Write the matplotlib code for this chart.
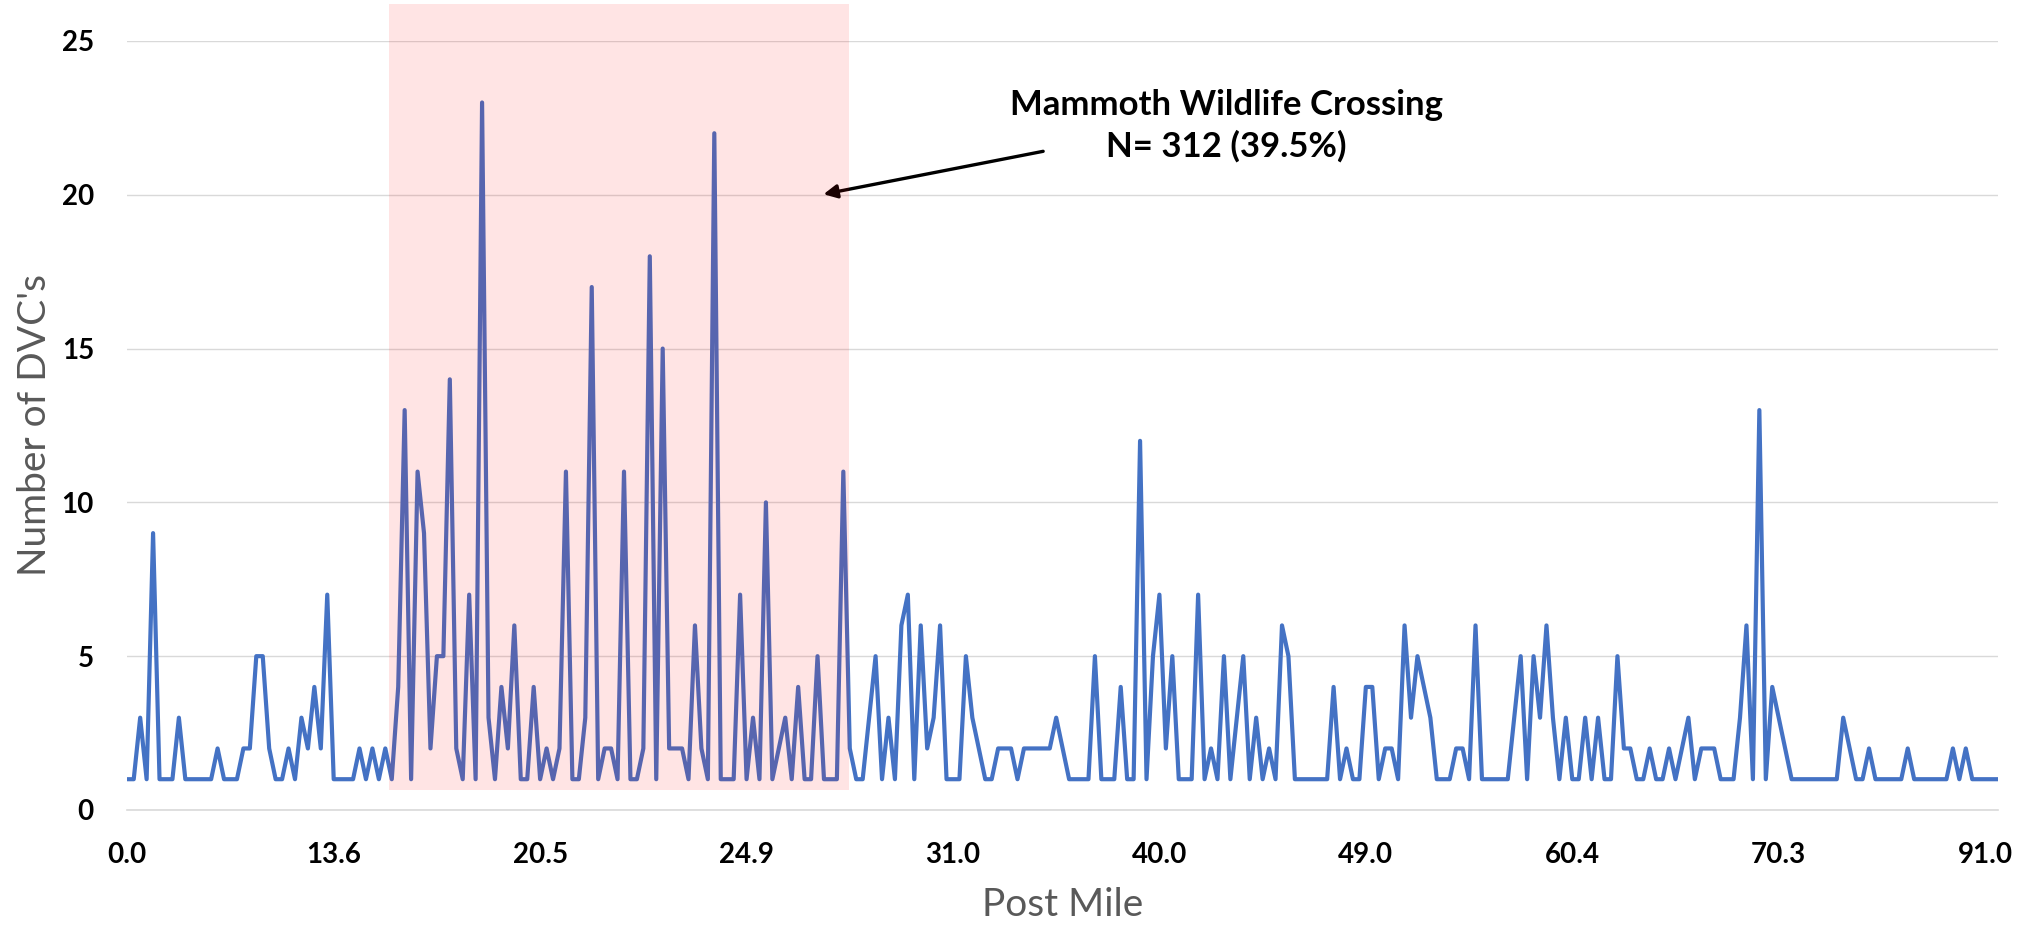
import matplotlib
matplotlib.use("Agg")
import matplotlib.pyplot as plt
from matplotlib.patches import Rectangle


plt.rcParams["font.family"] = ["Lato", "DejaVu Sans"]

# DVC counts per post-mile segment, read left to right
dvc_counts = [
    1, 1, 3, 1, 9, 1, 1, 1, 3, 1, 1, 1, 1, 1, 2, 1, 1, 1, 2, 2, 5, 5, 2, 1, 1, 2,
    1, 3, 2, 4, 2, 7, 1, 1, 1, 1, 2, 1, 2, 1, 2, 1, 4, 13, 1, 11, 9, 2, 5, 5, 14,
    2, 1, 7, 1, 23, 3, 1, 4, 2, 6, 1, 1, 4, 1, 2, 1, 2, 11, 1, 1, 3, 17, 1, 2,
    2, 1, 11, 1, 1, 2, 18, 1, 15, 2, 2, 2, 1, 6, 2, 1, 22, 1, 1, 1, 7, 1, 3, 1, 10,
    1, 2, 3, 1, 4, 1, 1, 5, 1, 1, 1, 11, 2, 1, 1, 3, 5, 1, 3, 1, 6, 7, 1, 6, 2,
    3, 6, 1, 1, 1, 5, 3, 2, 1, 1, 2, 2, 2, 1, 2, 2, 2, 2, 2, 3, 2, 1, 1, 1, 1,
    5, 1, 1, 1, 4, 1, 1, 12, 1, 5, 7, 2, 5, 1, 1, 1, 7, 1, 2, 1, 5, 1, 3, 5,
    1, 3, 1, 2, 1, 6, 5, 1, 1, 1, 1, 1, 1, 4, 1, 2, 1, 1, 4, 4, 1, 2, 2, 1, 6,
    3, 5, 4, 3, 1, 1, 1, 2, 2, 1, 6, 1, 1, 1, 1, 1, 3, 5, 1, 5, 3, 6, 3, 1, 3,
    1, 1, 3, 1, 3, 1, 1, 5, 2, 2, 1, 1, 2, 1, 1, 2, 1, 2, 3, 1, 2, 2, 2, 1, 1,
    1, 3, 6, 1, 13, 1, 4, 3, 2, 1, 1, 1, 1, 1, 1, 1, 1, 3, 2, 1, 1, 2, 1, 1, 1,
    1, 1, 2, 1, 1, 1, 1, 1, 1, 2, 1, 2, 1, 1, 1, 1, 1,
]
post_mile_labels = ["0.0", "13.6", "20.5", "24.9", "31.0", "40.0", "49.0", "60.4", "70.3", "91.0"]
label_step = 32

# segment range of the Mammoth wildlife crossing
crossing_from = 40.6
crossing_to = 111.9
crossing_text = "Mammoth Wildlife Crossing\nN= 312 (39.5%)"

fig = plt.figure(figsize=(20.17, 9.31), dpi=100)
ax = fig.add_axes([0.0631, 0.130, 0.9275, 0.826])

x = list(range(len(dvc_counts)))
ax.plot(x, dvc_counts, color="#4472C4", linewidth=3.0, solid_joinstyle="round",
        solid_capstyle="round", zorder=3)

ax.set_xlim(0, len(dvc_counts) - 1)
ax.set_ylim(0, 25)
ax.set_yticks([0, 5, 10, 15, 20, 25])
ax.set_xticks(list(range(0, len(dvc_counts), label_step)))
ax.set_xticklabels(post_mile_labels)

ax.grid(axis="y", color="#D9D9D9", linewidth=1.0)
ax.set_axisbelow(True)
for side in ["top", "right", "left"]:
    ax.spines[side].set_visible(False)
ax.spines["bottom"].set_color("#D9D9D9")
ax.spines["bottom"].set_linewidth(1.2)
ax.tick_params(axis="both", length=0, labelsize=20)
ax.tick_params(axis="x", pad=23)
ax.tick_params(axis="y", pad=24)
for lab in ax.get_xticklabels() + ax.get_yticklabels():
    lab.set_fontweight("bold")

ax.set_xlabel("Post Mile", fontsize=28, color="#595959", labelpad=14)
ax.set_ylabel("Number of DVC's", fontsize=28, color="#595959", labelpad=6)

# translucent red box laid over the crossing section
box = Rectangle((crossing_from, 0.65), crossing_to - crossing_from, 25.55,
                facecolor="red", alpha=0.105, edgecolor="none", clip_on=False, zorder=4)
ax.add_patch(box)

ax.annotate("", xy=(107.5, 20.0), xytext=(142.4, 21.43),
            arrowprops=dict(arrowstyle="-|>", color="black", lw=2.4, mutation_scale=20))
ax.text(170.4, 22.25, crossing_text, ha="center", va="center", fontsize=25,
        fontweight="bold", linespacing=1.35)

plt.savefig("out.png", dpi=100)
